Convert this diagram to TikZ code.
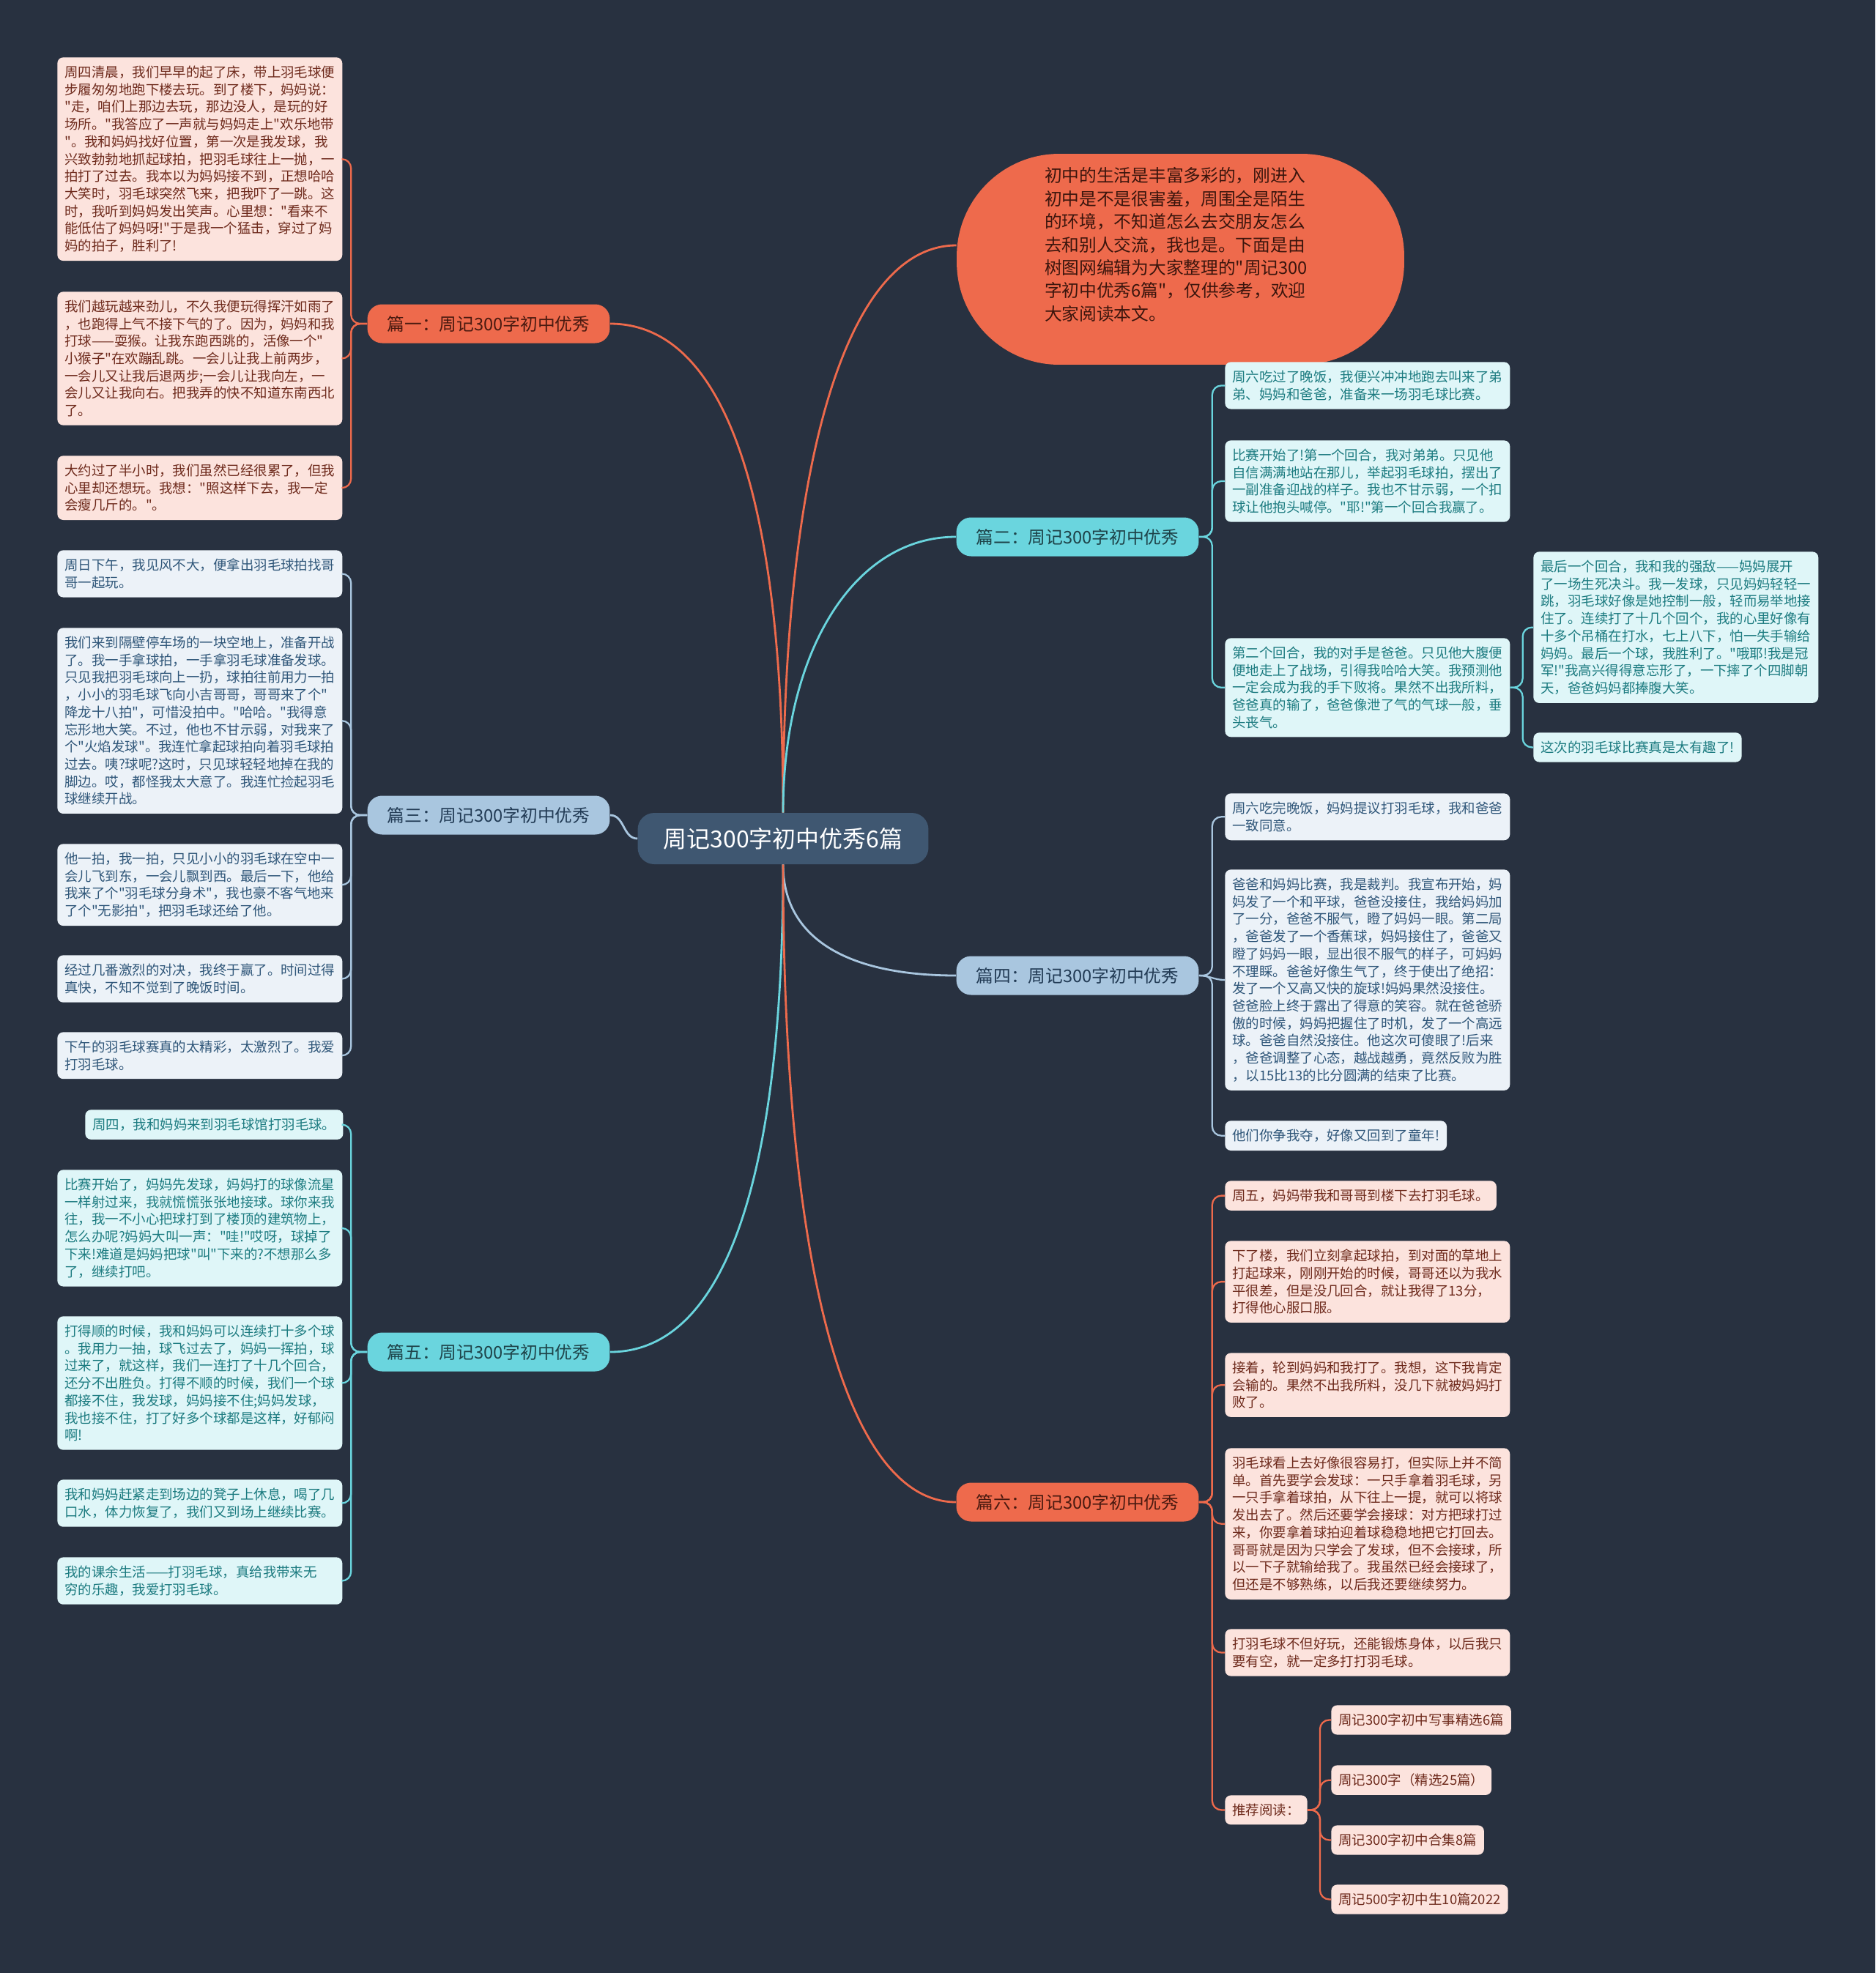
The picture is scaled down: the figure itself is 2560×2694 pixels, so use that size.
\documentclass[tikz,border=0pt]{standalone}
\usepackage{fontspec}
\setmainfont{Noto Sans CJK SC}[Ligatures=TeXOff]
\usepackage{tikz}

\definecolor{bgc}{HTML}{283140}
\definecolor{rootc}{HTML}{3F5771}
\definecolor{orng}{HTML}{EE6A4C}
\definecolor{orngtxt}{HTML}{4A1A10}
\definecolor{pinkfill}{HTML}{FCE3DD}
\definecolor{pinktxt}{HTML}{6E2A1C}
\definecolor{cyanc}{HTML}{6AD5DE}
\definecolor{cyantxt}{HTML}{1E4349}
\definecolor{cyanfill}{HTML}{DFF6F8}
\definecolor{cyanleaftxt}{HTML}{1C7B80}
\definecolor{steel}{HTML}{A9C6DF}
\definecolor{steeltxt}{HTML}{223B55}
\definecolor{steelfill}{HTML}{ECF2F8}
\definecolor{steelleaftxt}{HTML}{2F5679}

\begin{document}
\begin{tikzpicture}[x=0.02cm,y=-0.02cm,
  leaf/.style={anchor=north west,rounded corners=0.16cm,inner xsep=0.2cm,inner ysep=0.23cm,
    align=left,font=\fontsize{10.5}{13.5}\selectfont},
  fullw/.style={text width=7.38cm},
  pinkleaf/.style={leaf,fill=pinkfill,text=pinktxt},
  cyanleaf/.style={leaf,fill=cyanfill,text=cyanleaftxt},
  steelleaf/.style={leaf,fill=steelfill,text=steelleaftxt},
  branch/.style={rounded corners=0.4cm,minimum width=6.62cm,minimum height=1.06cm,inner sep=0pt,
    font=\fontsize{13.5}{16}\selectfont},
  root/.style={fill=rootc,text=white,rounded corners=0.45cm,minimum width=7.94cm,minimum height=1.4cm,
    font=\fontsize{18.2}{22}\selectfont},
  intro/.style={fill=orng,text=orngtxt!80!black,rounded corners=2.8cm,minimum width=12.22cm,minimum height=5.76cm,
    text width=7.42cm,inner xsep=2.4cm,align=left,font=\fontsize{13.5}{17.9}\selectfont},
  link/.style={line width=1.6pt},
  trunk/.style={line width=1.3pt,rounded corners=0.25cm},
]
\fill[bgc] (0,0) rectangle (2560,2694);

% centre and intro
\node[root] (root) at (1069,1145) {周记300字初中优秀6篇};
\node[intro] (intro) at (1611.5,354) {初中的生活是丰富多彩的，刚进入\\
初中是不是很害羞，周围全是陌生\\
的环境，不知道怎么去交朋友怎么\\
去和别人交流，我也是。下面是由\\
树图网编辑为大家整理的"周记300\\
字初中优秀6篇"，仅供参考，欢迎\\
大家阅读本文。\rule[-0.84cm]{0pt}{0pt}};

% branches
\node[branch,fill=orng,text=orngtxt] (p1) at (667,442) {篇一：周记300字初中优秀};
\node[branch,fill=cyanc,text=cyantxt] (p2) at (1471,733) {篇二：周记300字初中优秀};
\node[branch,fill=steel,text=steeltxt] (p3) at (667,1113) {篇三：周记300字初中优秀};
\node[branch,fill=steel,text=steeltxt] (p4) at (1471,1332) {篇四：周记300字初中优秀};
\node[branch,fill=cyanc,text=cyantxt] (p5) at (667,1846) {篇五：周记300字初中优秀};
\node[branch,fill=orng,text=orngtxt] (p6) at (1471,2051) {篇六：周记300字初中优秀};

% 篇一
\node[pinkleaf,fullw] (a1) at (78,78) {周四清晨，我们早早的起了床，带上羽毛球便\\
步履匆匆地跑下楼去玩。到了楼下，妈妈说：\\
"走，咱们上那边去玩，那边没人，是玩的好\\
场所。"我答应了一声就与妈妈走上"欢乐地带\\
"。我和妈妈找好位置，第一次是我发球，我\\
兴致勃勃地抓起球拍，把羽毛球往上一抛，一\\
拍打了过去。我本以为妈妈接不到，正想哈哈\\
大笑时，羽毛球突然飞来，把我吓了一跳。这\\
时，我听到妈妈发出笑声。心里想："看来不\\
能低估了妈妈呀!"于是我一个猛击，穿过了妈\\
妈的拍子，胜利了!};
\node[pinkleaf,fullw] (a2) at (78,398) {我们越玩越来劲儿，不久我便玩得挥汗如雨了\\
，也跑得上气不接下气的了。因为，妈妈和我\\
打球——耍猴。让我东跑西跳的，活像一个"\\
小猴子"在欢蹦乱跳。一会儿让我上前两步，\\
一会儿又让我后退两步;一会儿让我向左，一\\
会儿又让我向右。把我弄的快不知道东南西北\\
了。};
\node[pinkleaf,fullw] (a3) at (78,622) {大约过了半小时，我们虽然已经很累了，但我\\
心里却还想玩。我想："照这样下去，我一定\\
会瘦几斤的。"。};

% 篇三
\node[steelleaf,fullw] (b1) at (78,751) {周日下午，我见风不大，便拿出羽毛球拍找哥\\
哥一起玩。};
\node[steelleaf,fullw] (b2) at (78,857) {我们来到隔壁停车场的一块空地上，准备开战\\
了。我一手拿球拍，一手拿羽毛球准备发球。\\
只见我把羽毛球向上一扔，球拍往前用力一拍\\
，小小的羽毛球飞向小吉哥哥，哥哥来了个"\\
降龙十八拍"，可惜没拍中。"哈哈。"我得意\\
忘形地大笑。不过，他也不甘示弱，对我来了\\
个"火焰发球"。我连忙拿起球拍向着羽毛球拍\\
过去。咦?球呢?这时，只见球轻轻地掉在我的\\
脚边。哎，都怪我太大意了。我连忙捡起羽毛\\
球继续开战。};
\node[steelleaf,fullw] (b3) at (78,1152) {他一拍，我一拍，只见小小的羽毛球在空中一\\
会儿飞到东，一会儿飘到西。最后一下，他给\\
我来了个"羽毛球分身术"，我也豪不客气地来\\
了个"无影拍"，把羽毛球还给了他。};
\node[steelleaf,fullw] (b4) at (78,1304) {经过几番激烈的对决，我终于赢了。时间过得\\
真快，不知不觉到了晚饭时间。};
\node[steelleaf,fullw] (b5) at (78,1409) {下午的羽毛球赛真的太精彩，太激烈了。我爱\\
打羽毛球。};

% 篇五
\node[cyanleaf] (c1) at (116,1515) {周四，我和妈妈来到羽毛球馆打羽毛球。};
\node[cyanleaf,fullw] (c2) at (78,1597) {比赛开始了，妈妈先发球，妈妈打的球像流星\\
一样射过来，我就慌慌张张地接球。球你来我\\
往，我一不小心把球打到了楼顶的建筑物上，\\
怎么办呢?妈妈大叫一声："哇!"哎呀，球掉了\\
下来!难道是妈妈把球"叫"下来的?不想那么多\\
了，继续打吧。};
\node[cyanleaf,fullw] (c3) at (78,1797) {打得顺的时候，我和妈妈可以连续打十多个球\\
。我用力一抽，球飞过去了，妈妈一挥拍，球\\
过来了，就这样，我们一连打了十几个回合，\\
还分不出胜负。打得不顺的时候，我们一个球\\
都接不住，我发球，妈妈接不住;妈妈发球，\\
我也接不住，打了好多个球都是这样，好郁闷\\
啊!};
\node[cyanleaf,fullw] (c4) at (78,2020) {我和妈妈赶紧走到场边的凳子上休息，喝了几\\
口水，体力恢复了，我们又到场上继续比赛。};
\node[cyanleaf,fullw] (c5) at (78,2126) {我的课余生活——打羽毛球，真给我带来无\\
穷的乐趣，我爱打羽毛球。};

% 篇二
\node[cyanleaf,fullw] (d1) at (1672,494) {周六吃过了晚饭，我便兴冲冲地跑去叫来了弟\\
弟、妈妈和爸爸，准备来一场羽毛球比赛。};
\node[cyanleaf,fullw] (d2) at (1672,601) {比赛开始了!第一个回合，我对弟弟。只见他\\
自信满满地站在那儿，举起羽毛球拍，摆出了\\
一副准备迎战的样子。我也不甘示弱，一个扣\\
球让他抱头喊停。"耶!"第一个回合我赢了。};
\node[cyanleaf,fullw] (d3) at (1672,871) {第二个回合，我的对手是爸爸。只见他大腹便\\
便地走上了战场，引得我哈哈大笑。我预测他\\
一定会成为我的手下败将。果然不出我所料，\\
爸爸真的输了，爸爸像泄了气的气球一般，垂\\
头丧气。};
\node[cyanleaf,fullw] (e1) at (2093,753) {最后一个回合，我和我的强敌——妈妈展开\\
了一场生死决斗。我一发球，只见妈妈轻轻一\\
跳，羽毛球好像是她控制一般，轻而易举地接\\
住了。连续打了十几个回个，我的心里好像有\\
十多个吊桶在打水，七上八下，怕一失手输给\\
妈妈。最后一个球，我胜利了。"哦耶!我是冠\\
军!"我高兴得得意忘形了，一下摔了个四脚朝\\
天，爸爸妈妈都捧腹大笑。};
\node[cyanleaf] (e2) at (2093,1000) {这次的羽毛球比赛真是太有趣了!};

% 篇四
\node[steelleaf,fullw] (f1) at (1672,1083) {周六吃完晚饭，妈妈提议打羽毛球，我和爸爸\\
一致同意。};
\node[steelleaf,fullw] (f2) at (1672,1187) {爸爸和妈妈比赛，我是裁判。我宣布开始，妈\\
妈发了一个和平球，爸爸没接住，我给妈妈加\\
了一分，爸爸不服气，瞪了妈妈一眼。第二局\\
，爸爸发了一个香蕉球，妈妈接住了，爸爸又\\
瞪了妈妈一眼，显出很不服气的样子，可妈妈\\
不理睬。爸爸好像生气了，终于使出了绝招：\\
发了一个又高又快的旋球!妈妈果然没接住。\\
爸爸脸上终于露出了得意的笑容。就在爸爸骄\\
傲的时候，妈妈把握住了时机，发了一个高远\\
球。爸爸自然没接住。他这次可傻眼了!后来\\
，爸爸调整了心态，越战越勇，竟然反败为胜\\
，以15比13的比分圆满的结束了比赛。};
\node[steelleaf] (f3) at (1672,1530) {他们你争我夺，好像又回到了童年!};

% 篇六
\node[pinkleaf] (g1) at (1672,1612) {周五，妈妈带我和哥哥到楼下去打羽毛球。};
\node[pinkleaf,fullw] (g2) at (1672,1694) {下了楼，我们立刻拿起球拍，到对面的草地上\\
打起球来，刚刚开始的时候，哥哥还以为我水\\
平很差，但是没几回合，就让我得了13分，\\
打得他心服口服。};
\node[pinkleaf,fullw] (g3) at (1672,1847) {接着，轮到妈妈和我打了。我想，这下我肯定\\
会输的。果然不出我所料，没几下就被妈妈打\\
败了。};
\node[pinkleaf,fullw] (g4) at (1672,1977) {羽毛球看上去好像很容易打，但实际上并不简\\
单。首先要学会发球：一只手拿着羽毛球，另\\
一只手拿着球拍，从下往上一提，就可以将球\\
发出去了。然后还要学会接球：对方把球打过\\
来，你要拿着球拍迎着球稳稳地把它打回去。\\
哥哥就是因为只学会了发球，但不会接球，所\\
以一下子就输给我了。我虽然已经会接球了，\\
但还是不够熟练，以后我还要继续努力。};
\node[pinkleaf,fullw] (g5) at (1672,2224) {打羽毛球不但好玩，还能锻炼身体，以后我只\\
要有空，就一定多打打羽毛球。};
\node[pinkleaf] (g6) at (1672,2451) {推荐阅读：};
\node[pinkleaf] (h1) at (1817,2328) {周记300字初中写事精选6篇};
\node[pinkleaf] (h2) at (1817,2410) {周记300字（精选25篇）};
\node[pinkleaf] (h3) at (1817,2492) {周记300字初中合集8篇};
\node[pinkleaf] (h4) at (1817,2573) {周记500字初中生10篇2022};

% links from the centre
\draw[link,orng] (root.north) .. controls +(0,-480) and +(-150,0) .. ([yshift=0.38cm]intro.west);
\draw[link,orng] (root.north) .. controls +(0,-420) and +(160,0) .. (p1.east);
\draw[link,cyanc] (root.north) .. controls +(0,-220) and +(-140,0) .. (p2.west);
\draw[link,steel] (root.west) .. controls +(-20,0) and +(20,0) .. (p3.east);
\draw[link,steel] (root.south) .. controls +(0,100) and +(-150,0) .. (p4.west);
\draw[link,cyanc] (root.south) .. controls +(0,420) and +(160,0) .. (p5.east);
\draw[link,orng] (root.south) .. controls +(0,550) and +(-150,0) .. (p6.west);

% leaf links
\foreach \n in {a1,a2,a3}
  \draw[trunk,orng] (p1.west) -- ++(-22,0) |- (\n.east);
\foreach \n in {b1,b2,b3,b4,b5}
  \draw[trunk,steel] (p3.west) -- ++(-22,0) |- (\n.east);
\foreach \n in {c1,c2,c3,c4,c5}
  \draw[trunk,cyanc] (p5.west) -- ++(-22,0) |- (\n.east);
\foreach \n in {d1,d2,d3}
  \draw[trunk,cyanc] (p2.east) -- ++(18,0) |- (\n.west);
\foreach \n in {e1,e2}
  \draw[trunk,cyanc] (d3.east) -- ++(17,0) |- (\n.west);
\foreach \n in {f1,f3}
  \draw[trunk,steel] (p4.east) -- ++(18,0) |- (\n.west);
\draw[trunk,steel] (p4.east) to[out=0,in=180] (f2.west);
\foreach \n in {g1,g2,g3,g4,g5,g6}
  \draw[trunk,orng] (p6.east) -- ++(18,0) |- (\n.west);
\foreach \n in {h1,h2,h3,h4}
  \draw[trunk,orng] (g6.east) -- ++(17,0) |- (\n.west);
\end{tikzpicture}
\end{document}
